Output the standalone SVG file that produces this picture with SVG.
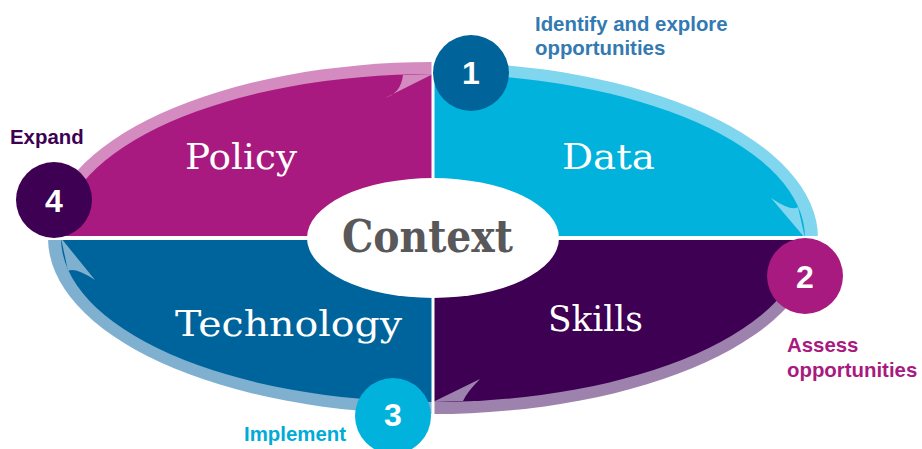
<svg xmlns="http://www.w3.org/2000/svg" width="922" height="449" viewBox="0 0 922 449">
<style>
.lbl{font-family:"Liberation Sans",Arial,sans-serif;font-weight:bold;font-size:20.4px}
.quad{font-family:"DejaVu Serif","Liberation Serif",serif;font-size:36px;fill:#ffffff}
.num{font-family:"Liberation Sans",Arial,sans-serif;font-weight:bold;font-size:32px;fill:#ffffff;text-anchor:middle}
.div{stroke:#ffffff;fill:none}
</style>
<rect width="922" height="449" fill="#ffffff"/>
<g id="policy">
<path d="M433,238 L48,238 A385,176 0 0 1 433,62 Z" fill="#D48BC0"/>
<path d="M433,238 L61,238 A372,164 0 0 1 433,74 Z" fill="#A81A7F"/>
<path d="M433,74 L385,98 Q401,93 403,75 Z" fill="#D48BC0"/>
<text class="quad" x="185" y="169" textLength="112" lengthAdjust="spacingAndGlyphs">Policy</text>
</g>
<g id="data">
<path d="M433,238 L433,62 A385,176 0 0 1 818,238 Z" fill="#7FD6EE"/>
<path d="M433,238 L433,74 A372,164 0 0 1 805,238 Z" fill="#00B2DC"/>
<path d="M805,238 L771,198 Q792,212 798,207 Z" fill="#7FD6EE"/>
<text class="quad" x="562" y="169" textLength="93" lengthAdjust="spacingAndGlyphs">Data</text>
</g>
<g id="skills">
<path d="M433,238 L818,238 A385,176 0 0 1 433,414 Z" fill="#9E82AE"/>
<path d="M433,238 L805,238 A372,164 0 0 1 433,402 Z" fill="#3D0052"/>
<path d="M433,402 L480,379 Q467,392 463,401 Z" fill="#9E82AE"/>
<text class="quad" x="548" y="331" textLength="95" lengthAdjust="spacingAndGlyphs">Skills</text>
</g>
<g id="technology">
<path d="M433,238 L433,414 A385,176 0 0 1 48,238 Z" fill="#7FB0CF"/>
<path d="M433,238 L433,402 A372,164 0 0 1 61,238 Z" fill="#00649C"/>
<path d="M61,238 L95,280 Q75,267 68,271 Z" fill="#7FB0CF"/>
<text class="quad" x="175" y="336" textLength="227" lengthAdjust="spacingAndGlyphs">Technology</text>
</g>
<g id="connectors">
<line class="div" x1="46" y1="238" x2="820" y2="238" stroke-width="4"/>
<line class="div" x1="433" y1="60" x2="433" y2="416" stroke-width="3"/>
</g>
<g id="context">
<ellipse cx="433" cy="238" rx="126" ry="60" fill="#ffffff"/>
<text x="342" y="252" font-family="DejaVu Serif, Liberation Serif, serif" font-weight="bold" font-size="44" fill="#58585A" textLength="171" lengthAdjust="spacingAndGlyphs">Context</text>
</g>
<g id="step1">
<circle cx="471" cy="73" r="38" fill="#00639A"/>
<text class="num" x="471" y="84">1</text>
<text class="lbl" x="535" y="31" fill="#3379B2">Identify and explore</text>
<text class="lbl" x="535" y="55" fill="#3379B2">opportunities</text>
</g>
<g id="step2">
<circle cx="805" cy="276" r="38" fill="#A81A7F"/>
<text class="num" x="805" y="288">2</text>
<text class="lbl" x="787" y="352" fill="#A81A7F">Assess</text>
<text class="lbl" x="787" y="377" fill="#A81A7F">opportunities</text>
</g>
<g id="step3">
<circle cx="393" cy="416" r="38" fill="#00B2DC"/>
<text class="num" x="393" y="426">3</text>
<text class="lbl" x="244" y="441" fill="#00ABD8">Implement</text>
</g>
<g id="step4">
<circle cx="54" cy="200" r="38" fill="#3D0052"/>
<text class="num" x="54" y="212">4</text>
<text class="lbl" x="10" y="144" fill="#3D0052">Expand</text>
</g>
</svg>
